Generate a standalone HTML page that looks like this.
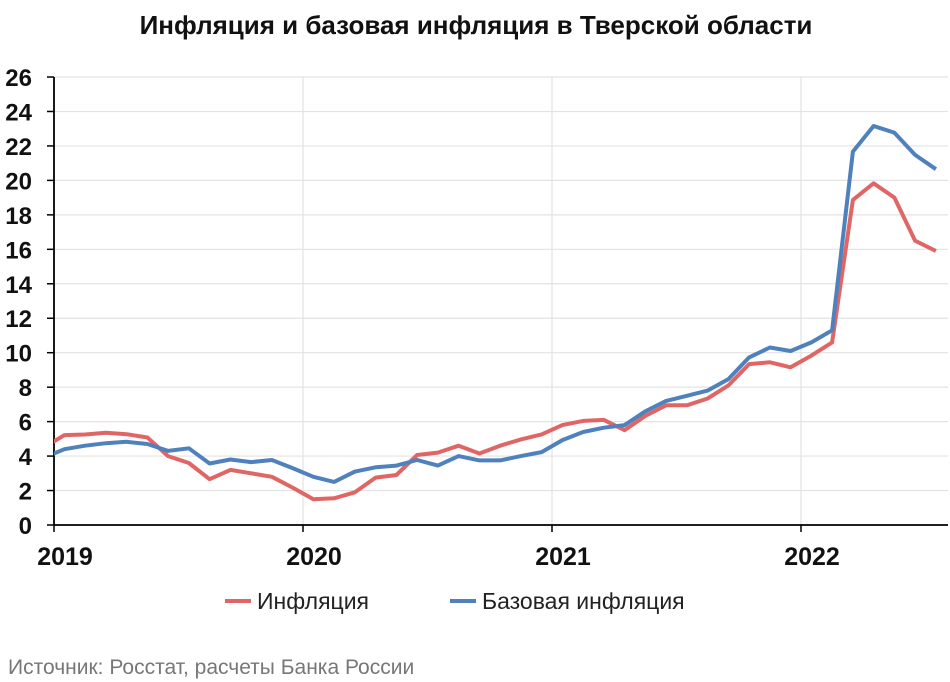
<!DOCTYPE html>
<html><head><meta charset="utf-8"><style>
body{margin:0;background:#fff;}
svg{display:block;font-family:"Liberation Sans",sans-serif;}
</style></head><body>
<svg id="chart" width="950" height="682" viewBox="0 0 950 682">
<text x="476" y="34" text-anchor="middle" font-size="26" font-weight="bold" fill="#111">Инфляция и базовая инфляция в Тверской области</text>
<defs><clipPath id="plotclip"><rect x="54" y="70" width="896" height="456"/></clipPath></defs>
<g id="grid"></g>
<g id="axes"></g>
<g id="series" clip-path="url(#plotclip)"></g>
<g>
<line x1="225" y1="601" x2="251" y2="601" stroke="#e06666" stroke-width="4"/>
<text x="257" y="609" font-size="23" fill="#222">Инфляция</text>
<line x1="450" y1="601" x2="476" y2="601" stroke="#4f81bd" stroke-width="4"/>
<text x="482" y="609" font-size="23" fill="#222">Базовая инфляция</text>
</g>
<text x="8" y="674" font-size="21" fill="#777">Источник: Росстат, расчеты Банка России</text>
</svg>
<script>
const yTicks=[0,2,4,6,8,10,12,14,16,18,20,22,24,26];
const yearLabels=["2019","2020","2021","2022"];
// monthly values starting Dec 2018 (index -1) through Jul 2022
const inflation=[4.5,5.22,5.25,5.35,5.27,5.08,4.0,3.6,2.66,3.2,3.0,2.8,2.17,1.5,1.55,1.9,2.75,2.9,4.06,4.2,4.6,4.15,4.6,4.97,5.26,5.8,6.04,6.1,5.5,6.33,6.95,6.95,7.34,8.1,9.34,9.44,9.15,9.83,10.6,18.87,19.83,19.0,16.5,15.9];
const coreInflation=[3.9,4.4,4.6,4.75,4.83,4.7,4.3,4.45,3.57,3.8,3.65,3.77,3.3,2.8,2.5,3.1,3.35,3.45,3.77,3.45,4.0,3.75,3.75,4.0,4.23,4.93,5.4,5.65,5.8,6.6,7.2,7.5,7.8,8.47,9.73,10.3,10.1,10.6,11.3,21.67,23.16,22.77,21.48,20.65];
const NS="http://www.svg.org/2000/svg".replace("svg.org","w3.org");
const X0=54,MONTH=20.75,Y0=525,YU=17.23;
function x(i){return X0+MONTH*(i+0.5);}
function y(v){return Y0-v*YU;}
function mk(t,a,p){const e=document.createElementNS(NS,t);for(const k in a)e.setAttribute(k,a[k]);p.appendChild(e);return e;}
const grid=document.getElementById('grid'),axes=document.getElementById('axes'),series=document.getElementById('series');
yTicks.forEach(v=>{
 if(v>0){const g=mk('line',{x1:X0,x2:948,y1:y(v),y2:y(v),stroke:'#e3e3e3','stroke-width':1.2},grid);
 
 }
 const t=mk('line',{x1:X0-7,x2:X0,y1:y(v),y2:y(v),stroke:'#000','stroke-width':1.5},axes);
 
 
 const l=mk('text',{x:32,y:y(v)+9,'text-anchor':'end','font-size':24,'font-weight':'bold',fill:'#111'},axes);
 l.textContent=v;
 
 
});
yearLabels.forEach((lab,k)=>{
 const xp=X0+k*12*MONTH;
 if(k>0){const g=mk('line',{x1:xp,x2:xp,y1:y(26),y2:Y0,stroke:'#e3e3e3','stroke-width':1.2},grid);
 
 }
 const t=mk('line',{x1:xp,x2:xp,y1:Y0,y2:Y0+7,stroke:'#000','stroke-width':1.5},axes);
 
 
 const l=mk('text',{x:xp+11,y:Y0+40,'text-anchor':'middle','font-size':25,'font-weight':'bold',fill:'#111'},axes);
 l.textContent=lab;
 
 
});
const ya=mk('line',{x1:X0,x2:X0,y1:y(26),y2:Y0,stroke:'#000','stroke-width':1.8},axes);


const xa=mk('line',{x1:X0,x2:948,y1:Y0,y2:Y0,stroke:'#000','stroke-width':1.8},axes);


function line(data,color,name){
 const pts=data.map((v,i)=>x(i-1).toFixed(1)+','+y(v).toFixed(1)).join(' ');
 const p=mk('polyline',{points:pts,fill:'none',stroke:color,'stroke-width':4,'stroke-linejoin':'round'},series);
 
 
}
line(inflation,'#e06666','inflation-line');
line(coreInflation,'#4f81bd','core-inflation-line');
</script>
</body></html>
